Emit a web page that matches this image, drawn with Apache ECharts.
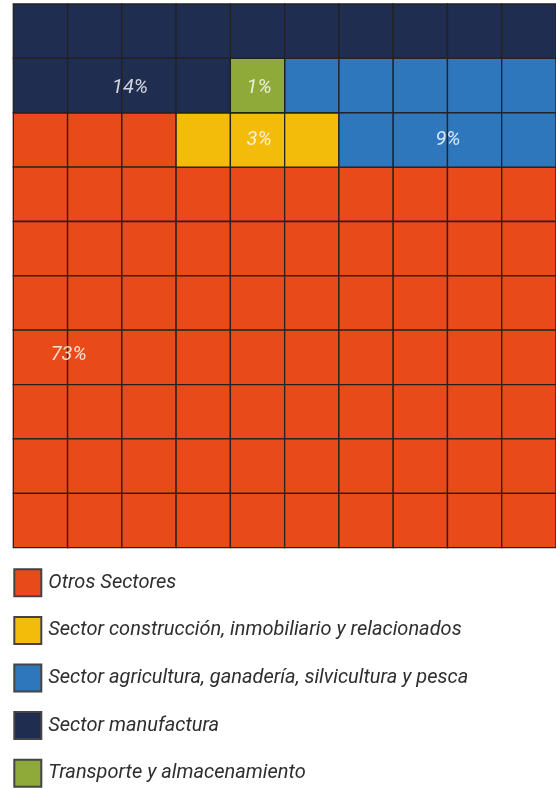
<!DOCTYPE html>
<html>
<head>
<meta charset="utf-8">
<script src="https://cdn.jsdelivr.net/npm/echarts@6/dist/echarts.min.js"></script>
<style>
  html, body { margin: 0; padding: 0; background: #fff; }
  #chart { width: 556px; height: 788px; }
</style>
</head>
<body>
<div id="chart"></div>
<script>
// categories, legend order
const sectors = [
  'Otros Sectores',
  'Sector construcción, inmobiliario y relacionados',
  'Sector agricultura, ganadería, silvicultura y pesca',
  'Sector manufactura',
  'Transporte y almacenamiento'
]
const sectorColors = ['#e84a19', '#f3bb0a', '#2f77bc', '#1f2d51', '#8faa38']
// 10x10 waffle, top row first, value = sector index
const waffleRows = [
  [3, 3, 3, 3, 3, 3, 3, 3, 3, 3],
  [3, 3, 3, 3, 4, 2, 2, 2, 2, 2],
  [0, 0, 0, 1, 1, 1, 2, 2, 2, 2],
  [0, 0, 0, 0, 0, 0, 0, 0, 0, 0],
  [0, 0, 0, 0, 0, 0, 0, 0, 0, 0],
  [0, 0, 0, 0, 0, 0, 0, 0, 0, 0],
  [0, 0, 0, 0, 0, 0, 0, 0, 0, 0],
  [0, 0, 0, 0, 0, 0, 0, 0, 0, 0],
  [0, 0, 0, 0, 0, 0, 0, 0, 0, 0],
  [0, 0, 0, 0, 0, 0, 0, 0, 0, 0]
]
// percentage labels and where they sit (column, row units)
const pctLabels = ['73%', '3%', '9%', '14%', '1%']
const pctAnchors = [[1.02, 6.45], [4.53, 2.5], [8.01, 2.5], [2.15, 1.54], [4.53, 1.54]]

const chart = echarts.init(document.getElementById('chart'))

function cellsOf(k) {
  let out = []
  waffleRows.forEach((row, r) => {
    row.forEach((v, c) => {
      if (v === k) out.push([c, r])
    })
  })
  return out
}

function renderCell(params, api) {
  const p0 = api.coord([api.value(0), api.value(1)])
  const p1 = api.coord([api.value(0) + 1, api.value(1) + 1])
  return {
    type: 'rect',
    shape: { x: p0[0], y: p0[1], width: p1[0] - p0[0], height: p1[1] - p0[1] },
    style: { fill: api.visual('color'), stroke: '#222', lineWidth: 1.3 }
  }
}

const series = sectors.map((name, k) => ({
  name: name,
  type: 'custom',
  renderItem: renderCell,
  itemStyle: { color: sectorColors[k], borderColor: '#444', borderWidth: 1 },
  encode: { x: 0, y: 1 },
  data: cellsOf(k)
}))

series.push({
  type: 'scatter',
  symbolSize: 0,
  silent: true,
  z: 10,
  label: {
    show: true,
    position: 'inside',
    formatter: p => p.name,
    color: '#fff',
    fontFamily: 'Roboto',
    fontStyle: 'italic',
    fontSize: 20
  },
  data: pctLabels.map((t, i) => ({ name: t, value: pctAnchors[i] }))
})

const option = {
  animation: false,
  grid: { left: 13.3, top: 4, width: 544, height: 543.7 },
  xAxis: {
    type: 'value', min: 0, max: 10,
    axisLine: { show: true, lineStyle: { color: '#aaa' } },
    axisTick: { show: false }, axisLabel: { show: false }, splitLine: { show: false }
  },
  yAxis: {
    type: 'value', min: 0, max: 10, inverse: true,
    axisLine: { show: true, lineStyle: { color: '#aaa' } },
    axisTick: { show: false }, axisLabel: { show: false }, splitLine: { show: false }
  },
  legend: {
    data: sectors,
    orient: 'vertical',
    left: 8.3,
    top: 563.3,
    height: 240,
    icon: 'rect',
    itemWidth: 27,
    itemHeight: 27,
    itemGap: 18.6,
    selectedMode: false,
    textStyle: {
      color: '#2e2e2e',
      fontFamily: 'Roboto',
      fontStyle: 'italic',
      fontSize: 20,
      lineHeight: 27,
      padding: [0, 0, 0, 2]
    }
  },
  series: series
}
chart.setOption(option)
</script>
</body>
</html>
